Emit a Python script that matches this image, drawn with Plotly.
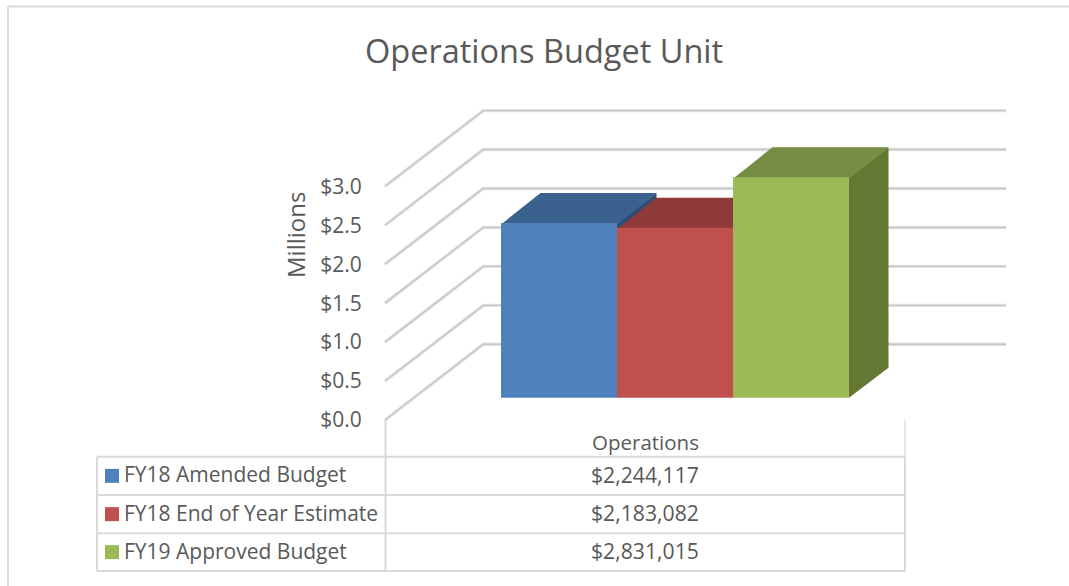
import plotly.graph_objects as go

# ---- data ----
series_names = ["FY18 Amended Budget", "FY18 End of Year Estimate", "FY19 Approved Budget"]
series_values = [2244117, 2183082, 2831015]
category = "Operations"
y_ticks = [0.0, 0.5, 1.0, 1.5, 2.0, 2.5, 3.0]
y_tick_labels = ["$0.0", "$0.5", "$1.0", "$1.5", "$2.0", "$2.5", "$3.0"]
title_text = "Operations Budget Unit"
y_title = "Millions"

# ---- styling ----
front_colors = ["#4F81BD", "#C0504D", "#9BBB59"]
top_colors = ["#3B618F", "#8F3B39", "#758E43"]
side_colors = ["#2F4E73", "#733030", "#647834"]
TEXT = "#595959"
FONT = "Open Sans"
W, H = 1069, 586

PX_X = 116.0   # px per bar slot
PX_Y = 77.9    # px per million
X0_PX = 501.0  # left edge of first bar
Y0_PX = 420.0  # $0 on the left axis

x_range = [-0.5 - X0_PX / PX_X, -0.5 + (W - X0_PX) / PX_X]
y_range = [-(H - Y0_PX) / PX_Y, Y0_PX / PX_Y]


def xd(px):
    return -0.5 + (px - X0_PX) / PX_X


# wall depth, bar depth, bar floor offset in data units
wall_dx, wall_dy = 98.3 / PX_X, 75.7 / PX_Y
bar_dx, bar_dy = 39.5 / PX_X, 29.9 / PX_Y
base = 22.3 / PX_Y
overlap = 1.5 / PX_Y  # top face runs slightly under the bar's front face

fig = go.Figure()

# Gridlines, on the bottom axes
ax_left, grid_right = xd(385), xd(1006)
for v in y_ticks:
    xs = [ax_left, ax_left + wall_dx, grid_right]
    ys = [v, v + wall_dy, v + wall_dy]
    fig.add_trace(go.Scatter(x=xs, y=ys, mode="lines", hoverinfo="skip", showlegend=False,
                             line=dict(color="#E3E3E3", width=3.4), xaxis="x", yaxis="y"))
    fig.add_trace(go.Scatter(x=xs, y=ys, mode="lines", hoverinfo="skip", showlegend=False,
                             line=dict(color="#C6C6C6", width=1.4), xaxis="x", yaxis="y"))

# Bars: faces and front on their own overlaid axes so each layer hides the one before it
for i, (name, val) in enumerate(zip(series_names, series_values)):
    xf, yf = f"x{2 * i + 2}", f"y{2 * i + 2}"
    xb, yb = f"x{2 * i + 3}", f"y{2 * i + 3}"
    h = val / 1e6
    l, r = i - 0.5, i + 0.5
    b, t = base, base + h
    fig.add_trace(go.Scatter(
        x=[r, r + bar_dx, r + bar_dx, r, r], y=[b, b + bar_dy, t + bar_dy, t, b],
        mode="lines", fill="toself", fillcolor=side_colors[i], line=dict(width=0),
        hoverinfo="skip", showlegend=False, xaxis=xf, yaxis=yf))
    fig.add_trace(go.Scatter(
        x=[l, r, r + bar_dx, l + bar_dx, l], y=[t - overlap, t - overlap, t + bar_dy, t + bar_dy, t - overlap],
        mode="lines", fill="toself", fillcolor=top_colors[i], line=dict(width=0),
        hoverinfo="skip", showlegend=False, xaxis=xf, yaxis=yf))
    fig.add_trace(go.Bar(
        x=[i], y=[h], base=[b], width=[1.0], name=name,
        marker=dict(color=front_colors[i], line=dict(width=0)),
        showlegend=False, xaxis=xb, yaxis=yb))


def hidden_axis(rng, **kw):
    return dict(range=rng, visible=False, fixedrange=True, domain=[0, 1], **kw)


layout = dict(
    width=W, height=H, margin=dict(l=0, r=0, t=0, b=0),
    paper_bgcolor="white", plot_bgcolor="rgba(0,0,0,0)", showlegend=False, barmode="overlay",
    font=dict(family=FONT, color=TEXT),
    xaxis=hidden_axis(x_range),
    yaxis=dict(range=y_range, domain=[0, 1], fixedrange=True, showgrid=False, zeroline=False,
               showline=False, tickmode="array", tickvals=y_ticks, ticktext=y_tick_labels,
               ticks="outside", ticklen=19, tickcolor="rgba(0,0,0,0)", tickwidth=0,
               tickfont=dict(family=FONT, size=21, color=TEXT),
               anchor="free", position=385 / W, side="left"),
)
for n in range(2, 8):
    layout[f"xaxis{n}"] = hidden_axis(x_range, overlaying="x")
    layout[f"yaxis{n}"] = hidden_axis(y_range, overlaying="y")

GRID = "#D9D9D9"


def px_line(x0, y0, x1, y1, color=GRID, width=2):
    return dict(type="line", xref="paper", yref="paper", x0=x0 / W, x1=x1 / W,
                y0=1 - y0 / H, y1=1 - y1 / H, line=dict(color=color, width=width))


def px_text(x, y, text, size, anchor="center", **kw):
    return dict(xref="paper", yref="paper", x=x / W, y=1 - y / H, text=text, showarrow=False,
                xanchor=anchor, yanchor="middle", font=dict(family=FONT, size=size, color=TEXT), **kw)


table_left, table_mid, table_right = 97, 385.5, 905
rows_y = [456.7, 495, 533.3, 571]
shapes = [px_line(8, 6.5, W, 6.5), px_line(8, 6.5, 8, H),
          px_line(table_mid, 420, table_mid, rows_y[0]), px_line(table_right, 420, table_right, rows_y[0], width=1.2),
          px_line(table_left, rows_y[0], table_left, rows_y[-1]),
          px_line(table_mid, rows_y[0], table_mid, rows_y[-1]),
          px_line(table_right, rows_y[0], table_right, rows_y[-1])]
shapes += [px_line(table_left, y, table_right, y) for y in rows_y]

annotations = [px_text(543.5, 50.5, title_text, 32.5),
               px_text(295, 235, y_title, 24, textangle=-90),
               px_text(645, 442, category, 20.5)]
for i, (name, val) in enumerate(zip(series_names, series_values)):
    yc = (rows_y[i] + rows_y[i + 1]) / 2
    shapes.append(dict(type="rect", xref="paper", yref="paper", x0=105 / W, x1=119 / W,
                       y0=1 - (yc - 7) / H, y1=1 - (yc + 7) / H,
                       fillcolor=front_colors[i], line=dict(width=0)))
    annotations.append(px_text(122, yc - 1.5, name, 21, anchor="left"))
    annotations.append(px_text(645, yc - 1.5, f"${val:,}", 21.2))

layout["shapes"] = shapes
layout["annotations"] = annotations
fig.update_layout(**layout)
fig.write_html("out.html", config={"displayModeBar": False},
               post_script="document.body.style.margin='0';document.documentElement.style.overflow='hidden';")
